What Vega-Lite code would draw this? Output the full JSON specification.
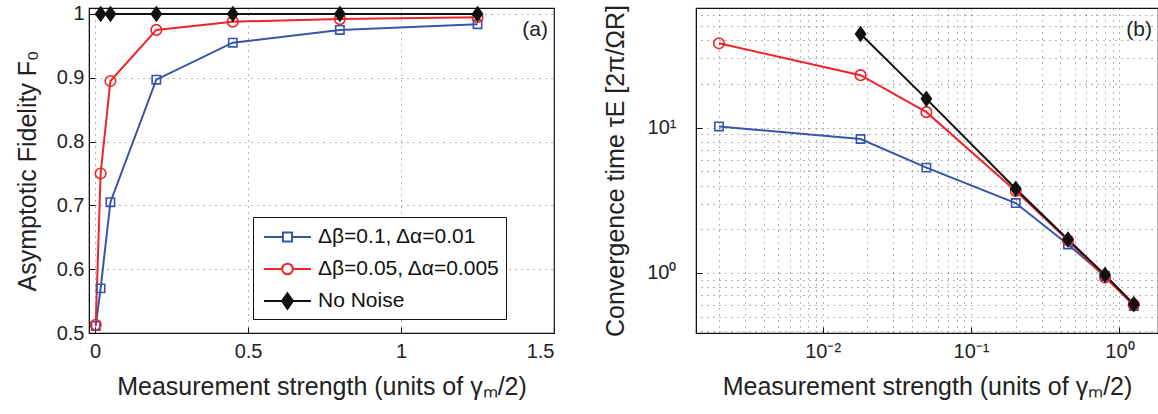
{
  "$schema": "https://vega.github.io/schema/vega-lite/v6.json",
  "padding": {"left": 14, "top": 3, "right": 0, "bottom": 0},
  "datasets": {
    "left": [
      {"series": "Δβ=0.1, Δα=0.01", "x": 0.002, "F": 0.511},
      {"series": "Δβ=0.1, Δα=0.01", "x": 0.018, "F": 0.570},
      {"series": "Δβ=0.1, Δα=0.01", "x": 0.05, "F": 0.705},
      {"series": "Δβ=0.1, Δα=0.01", "x": 0.2, "F": 0.897},
      {"series": "Δβ=0.1, Δα=0.01", "x": 0.45, "F": 0.955},
      {"series": "Δβ=0.1, Δα=0.01", "x": 0.8, "F": 0.975},
      {"series": "Δβ=0.1, Δα=0.01", "x": 1.25, "F": 0.984},
      {"series": "Δβ=0.05, Δα=0.005", "x": 0.002, "F": 0.513},
      {"series": "Δβ=0.05, Δα=0.005", "x": 0.018, "F": 0.750},
      {"series": "Δβ=0.05, Δα=0.005", "x": 0.05, "F": 0.895},
      {"series": "Δβ=0.05, Δα=0.005", "x": 0.2, "F": 0.975},
      {"series": "Δβ=0.05, Δα=0.005", "x": 0.45, "F": 0.988},
      {"series": "Δβ=0.05, Δα=0.005", "x": 0.8, "F": 0.992},
      {"series": "Δβ=0.05, Δα=0.005", "x": 1.25, "F": 0.995},
      {"series": "No Noise", "x": 0.018, "F": 1.0},
      {"series": "No Noise", "x": 0.05, "F": 1.0},
      {"series": "No Noise", "x": 0.2, "F": 1.0},
      {"series": "No Noise", "x": 0.45, "F": 1.0},
      {"series": "No Noise", "x": 0.8, "F": 1.0},
      {"series": "No Noise", "x": 1.25, "F": 1.0}
    ],
    "right": [
      {"series": "Δβ=0.1, Δα=0.01", "x": 0.002, "tau": 10.2},
      {"series": "Δβ=0.1, Δα=0.01", "x": 0.018, "tau": 8.36},
      {"series": "Δβ=0.1, Δα=0.01", "x": 0.05, "tau": 5.31},
      {"series": "Δβ=0.1, Δα=0.01", "x": 0.2, "tau": 3.03},
      {"series": "Δβ=0.1, Δα=0.01", "x": 0.45, "tau": 1.57},
      {"series": "Δβ=0.1, Δα=0.01", "x": 0.8, "tau": 0.953},
      {"series": "Δβ=0.1, Δα=0.01", "x": 1.25, "tau": 0.593},
      {"series": "Δβ=0.05, Δα=0.005", "x": 0.002, "tau": 38.1},
      {"series": "Δβ=0.05, Δα=0.005", "x": 0.018, "tau": 23.0},
      {"series": "Δβ=0.05, Δα=0.005", "x": 0.05, "tau": 12.8},
      {"series": "Δβ=0.05, Δα=0.005", "x": 0.2, "tau": 3.67},
      {"series": "Δβ=0.05, Δα=0.005", "x": 0.45, "tau": 1.68},
      {"series": "Δβ=0.05, Δα=0.005", "x": 0.8, "tau": 0.93},
      {"series": "Δβ=0.05, Δα=0.005", "x": 1.25, "tau": 0.605},
      {"series": "No Noise", "x": 0.018, "tau": 44.2},
      {"series": "No Noise", "x": 0.05, "tau": 15.8},
      {"series": "No Noise", "x": 0.2, "tau": 3.80},
      {"series": "No Noise", "x": 0.45, "tau": 1.70},
      {"series": "No Noise", "x": 0.8, "tau": 0.97},
      {"series": "No Noise", "x": 1.25, "tau": 0.61}
    ]
  },
  "hconcat": [
    {
      "width": 465,
      "height": 325,
      "data": {"name": "left"},
      "title": {"text": "(a)", "anchor": "end", "frame": "group", "offset": -36, "dx": -6, "fontSize": 21, "fontWeight": "normal", "color": "#222"},
      "encoding": {
        "x": {"field": "x", "type": "quantitative",
          "scale": {"domain": [-0.02, 1.5], "nice": false, "zero": false},
          "axis": {"values": [0, 0.5, 1, 1.5], "format": "~g", "title": "Measurement strength (units of γₘ/2)", "grid": true, "ticks": true, "tickSize": -6, "labelPadding": 14, "titlePadding": 13}},
        "y": {"field": "F", "type": "quantitative",
          "scale": {"domain": [0.5, 1.0094], "nice": false, "zero": false},
          "axis": {"values": [0.5, 0.6, 0.7, 0.8, 0.9, 1], "format": "~g", "title": "Asymptotic Fidelity F₀", "grid": true, "ticks": true, "tickSize": -6, "labelPadding": 11, "titlePadding": 16}},
        "color": {"field": "series", "type": "nominal",
          "scale": {"domain": ["Δβ=0.1, Δα=0.01", "Δβ=0.05, Δα=0.005", "No Noise"], "range": ["#3556a8", "#ee2428", "#111111"]},
          "legend": {
            "orient": "none", "legendX": 164, "legendY": 209, "title": null,
            "strokeColor": "#111", "fillColor": "white", "padding": 6, "rowPadding": 8,
            "symbolSize": 676, "symbolStrokeWidth": 2, "symbolOpacity": 1, "labelOffset": 31,
            "labelFontSize": 21, "labelColor": "#111", "labelLimit": 400
          }}
      },
      "layer": [
        {"mark": {"type": "line", "strokeWidth": 2}},
        {"mark": {"type": "point", "filled": false, "strokeWidth": 1.6, "size": 256, "opacity": 1},
          "encoding": {
            "shape": {"condition": [
                {"test": "datum.series === 'No Noise'", "value": "M0,-0.87L0.62,0L0,0.87L-0.62,0Z"},
                {"test": "datum.series === 'Δβ=0.1, Δα=0.01'", "value": "M-0.52,-0.52H0.52V0.52H-0.52Z"}
              ],
              "value": "M-0.66,0A0.66,0.66,0,1,1,0.66,0A0.66,0.66,0,1,1,-0.66,0Z"},
            "fill": {"condition": {"test": "datum.series === 'No Noise'", "value": "#111111"}, "value": "transparent"}
          }},
        {"mark": {"type": "point", "filled": false, "strokeWidth": 2, "size": 676, "opacity": 0},
          "encoding": {
            "shape": {"field": "series", "type": "nominal", "legend": null,
              "scale": {"domain": ["Δβ=0.1, Δα=0.01", "Δβ=0.05, Δα=0.005", "No Noise"],
                "range": [
                  "M-0.69,0H0.765M1.465,0H2.92M0.765,-0.35H1.465V0.35H0.765Z",
                  "M-0.69,0H0.705M1.525,0H2.92M0.705,0A0.41,0.41,0,1,1,1.525,0A0.41,0.41,0,1,1,0.705,0Z",
                  "M-0.69,0H2.92M1.115,-0.6L1.535,0L1.115,0.6L0.695,0Z"]}},
            "fill": {"field": "series", "type": "nominal", "legend": null,
              "scale": {"domain": ["Δβ=0.1, Δα=0.01", "Δβ=0.05, Δα=0.005", "No Noise"], "range": ["transparent", "transparent", "#111111"]}}
          }}
      ]
    },
    {
      "width": 462,
      "height": 325,
      "data": {"name": "right"},
      "title": {"text": "(b)", "anchor": "end", "frame": "group", "offset": -36, "dx": -6, "fontSize": 21, "fontWeight": "normal", "color": "#222"},
      "encoding": {
        "color": {"field": "series", "type": "nominal", "legend": null,
          "scale": {"domain": ["Δβ=0.1, Δα=0.01", "Δβ=0.05, Δα=0.005", "No Noise"], "range": ["#3556a8", "#ee2428", "#111111"]}}
      },
      "layer": [
        {"mark": {"type": "line", "strokeWidth": 2},
          "encoding": {
            "x": {"field": "x", "type": "quantitative",
              "scale": {"type": "log", "domain": [0.0014, 1.82], "nice": false},
              "axis": {"orient": "top", "title": null, "labels": false, "ticks": false, "domain": false, "grid": true,
                "values": [0.002,0.003,0.004,0.005,0.006,0.007,0.008,0.009,0.01,0.02,0.03,0.04,0.05,0.06,0.07,0.08,0.09,0.1,0.2,0.3,0.4,0.5,0.6,0.7,0.8,0.9,1]}},
            "y": {"field": "tau", "type": "quantitative",
              "scale": {"type": "log", "domain": [0.386, 66.7], "nice": false},
              "axis": {"orient": "right", "title": null, "labels": false, "ticks": false, "domain": false, "grid": true,
                "values": [0.4,0.5,0.6,0.7,0.8,0.9,1,2,3,4,5,6,7,8,9,10,20,30,40,50,60]}}
          }},
        {"mark": {"type": "point", "filled": false, "strokeWidth": 1.6, "size": 256, "opacity": 1},
          "encoding": {
            "x": {"field": "x", "type": "quantitative",
              "scale": {"type": "log", "domain": [0.0014, 1.82], "nice": false},
              "axis": {"orient": "bottom", "values": [0.01, 0.1, 1], "grid": false, "ticks": true, "tickSize": -6,
                "labelExpr": "datum.value < 0.05 ? '10⁻²' : datum.value < 0.5 ? '10⁻¹' : '10⁰'",
                "title": "Measurement strength (units of γₘ/2)", "labelPadding": 14, "titlePadding": 13}},
            "y": {"field": "tau", "type": "quantitative",
              "scale": {"type": "log", "domain": [0.386, 66.7], "nice": false},
              "axis": {"orient": "left", "values": [1, 10], "grid": false, "ticks": true, "tickSize": -6,
                "labelExpr": "datum.value < 5 ? '10⁰' : '10¹'",
                "title": "Convergence time τE [2π/ΩR]", "labelPadding": 26, "titlePadding": 18}},
            "shape": {"field": "series", "type": "nominal", "legend": null,
              "scale": {"domain": ["Δβ=0.1, Δα=0.01", "Δβ=0.05, Δα=0.005", "No Noise"],
                "range": ["M-0.52,-0.52H0.52V0.52H-0.52Z", "M-0.66,0A0.66,0.66,0,1,1,0.66,0A0.66,0.66,0,1,1,-0.66,0Z", "M0,-0.87L0.62,0L0,0.87L-0.62,0Z"]}},
            "fill": {"field": "series", "type": "nominal", "legend": null,
              "scale": {"domain": ["Δβ=0.1, Δα=0.01", "Δβ=0.05, Δα=0.005", "No Noise"], "range": ["transparent", "transparent", "#111111"]}}
          }}
      ],
      "resolve": {"axis": {"x": "independent", "y": "independent"}}
    }
  ],
  "spacing": 142,
  "bounds": "flush",
  "resolve": {"scale": {"color": "independent", "shape": "independent", "fill": "independent"}, "legend": {"color": "independent"}},
  "config": {
    "font": "Liberation Sans",
    "view": {"stroke": "#111", "strokeWidth": 1.2},
    "axis": {"domainColor": "#111", "labelColor": "#222", "titleColor": "#222", "labelFontSize": 20, "titleFontSize": 25,
      "titleFontWeight": "normal", "ticks": false, "tickColor": "#111", "gridColor": "#333", "gridDash": [1, 5], "gridOpacity": 0.75,
      "labelFont": "Liberation Sans", "titleFont": "Liberation Sans"}
  }
}
